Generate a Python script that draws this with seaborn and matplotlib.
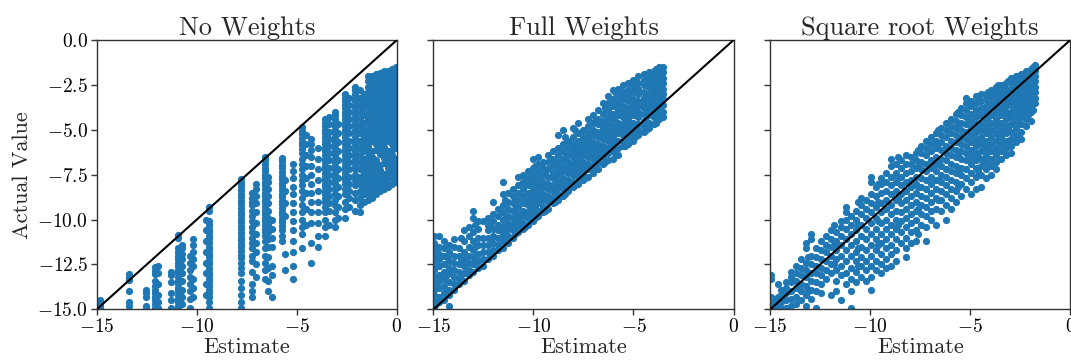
import matplotlib
matplotlib.use("Agg")
import matplotlib.pyplot as plt
import seaborn as sns
import pandas as pd

# ---------------- data ----------------
titles = ["No Weights", "Full Weights", "Square root Weights"]
x_label = "Estimate"
y_label = "Actual Value"
axis_lim = [-15, 0]
x_ticks = [-15, -10, -5, 0]
x_tick_labels = ["$-15$", "$-10$", "$-5$", "$0$"]
y_ticks = [0.0, -2.5, -5.0, -7.5, -10.0, -12.5, -15.0]
y_tick_labels = ["$0.0$", "$-2.5$", "$-5.0$", "$-7.5$", "$-10.0$", "$-12.5$", "$-15.0$"]

# Panel 1: No Weights (estimates fall on discrete columns)
nw_est = [-14.85, -13.4, -12.55, -12.1, -11.95, -11.3, -10.95, -10.75, -10.35, -10.2,
          -9.55, -9.4, -7.8, -7.25, -7.05, -6.6, -6.45, -6.25, -5.75, -5.6, -5.2,
          -4.75, -4.55, -4.3, -3.95, -3.6, -3.4, -3.1, -2.95, -2.6, -2.4, -2.1, -1.85,
          -1.65, -1.45, -1.25, -1.05, -0.85, -0.65, -0.45, -0.25, -0.05]
nw_act = [
    [-14.5, -14.65, -14.8, -14.95],
    [-13.05, -13.2, -13.35, -14.0, -14.6, -14.8],
    [-13.9, -14.1, -14.3, -14.8, -15.0],
    [-12.65, -12.85, -13.05, -13.4, -13.7, -13.9, -14.1, -14.3, -14.5, -14.7, -14.9],
    [-12.6, -12.95, -13.6, -14.2, -14.6, -14.95],
    [-12.9, -13.1, -13.5, -14.1, -14.5, -14.95],
    [-10.85, -11.05, -11.6, -11.8, -12.0, -12.2, -12.4, -12.6, -12.8, -13.0, -13.2, -13.4,
     -13.6, -13.8, -14.0, -14.2, -14.4, -14.6, -14.8, -15.0],
    [-11.4, -11.6, -11.9, -12.2, -12.6, -13.0, -13.4, -13.9, -14.3, -14.7],
    [-12.0, -12.4, -12.8, -13.2, -13.6, -14.0, -14.4, -14.9],
    [-11.1, -11.4, -11.8, -12.2, -12.6, -13.3, -13.8, -14.3],
    [-10.0, -10.6, -11.2, -11.8, -12.4, -13.0, -13.6, -14.2],
    [-9.3, -9.5, -10.1, -10.3, -10.5, -10.7, -10.9, -11.1, -11.3, -11.5, -11.7, -11.9,
     -12.1, -12.3, -12.5, -12.7, -12.9, -13.1, -13.3, -13.5, -13.7, -13.9, -14.1, -14.3,
     -14.6, -14.95],
    [-7.75, -7.95, -8.15, -8.35, -8.55, -8.75, -8.95, -9.15, -9.35, -9.55, -9.75, -9.95,
     -10.15, -10.35, -10.55, -10.75, -10.95, -11.15, -11.35, -11.55, -11.75, -11.95,
     -12.15, -12.4, -12.7, -13.0, -13.4, -13.8, -14.2, -14.6, -14.95],
    [-8.5, -8.8, -9.0, -9.2, -9.5, -9.8, -10.1, -10.4, -10.7, -11.0, -11.3, -11.6, -12.0,
     -12.3, -12.9, -13.6, -14.0, -14.3],
    [-8.0, -8.3, -8.7, -9.1, -9.6, -10.2, -10.8, -11.3, -11.8, -12.5, -13.2],
    [-6.5, -6.7, -6.9, -7.1, -7.3, -7.5, -7.7, -7.9, -8.1, -8.3, -8.5, -8.7, -8.9, -9.1,
     -9.3, -9.5, -9.7, -9.9, -10.1, -10.3, -10.5, -10.7, -10.9, -11.2, -11.6, -12.0,
     -12.4, -12.8, -13.3],
    [-7.6, -7.9, -8.3, -8.7, -9.1, -9.5, -9.9, -10.3, -10.7, -11.1, -11.5, -12.1, -12.7,
     -13.4, -14.0],
    [-10.0, -10.5, -11.0, -11.5, -12.6, -13.1, -14.3],
    [-6.55, -6.75, -6.95, -7.15, -7.35, -7.55, -7.75, -7.95, -8.15, -8.35, -8.55, -8.75,
     -8.95, -9.15, -9.35, -9.55, -9.75, -9.95, -10.15, -10.35, -10.6, -10.9, -11.2],
    [-7.8, -8.4, -9.1, -9.8, -11.9, -12.8],
    [-6.9, -7.3, -7.7, -8.2, -8.6, -9.1, -9.6, -10.1, -10.6, -11.2, -11.8, -12.6, -13.3],
    [-4.85, -5.05, -5.25, -5.45, -5.65, -5.85, -6.05, -6.3, -6.6, -6.9, -7.2, -7.5, -7.8,
     -8.1, -8.4, -8.8, -9.2, -9.6, -10.0, -10.4, -10.8, -11.6],
    [-5.3, -5.8, -6.4, -7.0, -7.7, -8.5, -9.4, -10.3],
    [-5.5, -5.8, -6.1, -6.5, -7.0, -7.5, -8.0, -8.5, -9.0, -9.6, -10.2, -11.3, -12.4],
    [-6.0, -6.6, -7.2, -7.8, -8.4, -9.0, -9.6, -10.2, -10.9, -11.5],
    [-4.4, -4.6, -4.8, -5.0, -5.2, -5.4, -5.6, -5.8, -6.0, -6.2, -6.4, -6.6, -6.8, -7.0,
     -7.2, -7.4, -7.6, -7.8, -8.0, -8.2, -8.4, -8.6, -8.8, -9.0, -9.3, -9.6, -10.0,
     -10.4, -10.9],
    [-4.3, -4.7, -5.1, -5.5, -5.9, -6.3, -6.7, -7.1, -7.5, -7.9, -8.3, -8.7, -9.1, -9.5,
     -10.3],
    [-4.0, -4.2, -4.4, -4.6, -4.8, -5.0, -5.2, -5.4, -5.6, -5.8, -6.0, -6.2, -6.4, -6.6,
     -6.8, -7.0, -7.2, -7.4, -7.6, -7.8, -8.0, -8.3, -8.6, -8.9, -9.2, -9.6, -10.0, -10.4],
    [-4.7, -5.2, -5.7, -6.2, -6.7, -7.2, -7.7, -8.2, -8.7, -9.3, -9.9],
    [-3.0, -3.2, -3.4, -3.6, -3.8, -4.0, -4.2, -4.4, -4.6, -4.8, -5.0, -5.2, -5.4, -5.6,
     -5.8, -6.0, -6.2, -6.4, -6.6, -6.8, -7.0, -7.2, -7.4, -7.6, -7.8, -8.0, -8.3, -8.6,
     -9.0, -9.4, -9.9],
    [-3.2, -3.6, -4.0, -4.4, -4.8, -5.2, -5.6, -6.0, -6.4, -6.8, -7.2, -7.6, -8.0, -8.4,
     -8.8, -9.3],
    [-2.6, -2.8, -3.0, -3.2, -3.4, -3.6, -3.8, -4.0, -4.2, -4.4, -4.6, -4.8, -5.0, -5.2,
     -5.4, -5.6, -5.8, -6.0, -6.2, -6.4, -6.6, -6.8, -7.0, -7.2, -7.5, -7.8, -8.1, -8.5,
     -8.9, -9.5],
    [-2.8, -3.2, -3.6, -4.0, -4.4, -4.8, -5.2, -5.6, -6.0, -6.4, -6.8, -7.2, -7.6, -8.0,
     -8.4, -8.8, -9.2, -9.6],
    [-3.0, -3.4, -3.8, -4.2, -4.6, -5.0, -5.4, -5.8, -6.2, -6.6, -7.0, -7.4, -7.8, -8.2,
     -8.6, -9.0],
    [-2.0, -2.3, -2.6, -2.9, -3.2, -3.5, -3.8, -4.1, -4.4, -4.7, -5.0, -5.3, -5.6, -5.9,
     -6.2, -6.5, -6.8, -7.1, -7.4, -7.7, -8.0, -8.3, -8.6, -8.9],
    [-2.0, -2.3, -2.6, -2.9, -3.2, -3.5, -3.8, -4.1, -4.4, -4.7, -5.0, -5.3, -5.6, -6.2,
     -6.5, -6.8, -7.1, -7.4, -7.7, -8.0, -8.4, -8.8],
    [-1.9, -2.2, -2.5, -2.8, -3.1, -3.4, -3.7, -4.0, -4.3, -4.6, -4.9, -5.2, -5.5, -5.8,
     -6.1, -6.7, -7.0, -7.3, -7.6, -7.9, -8.2, -8.6],
    [-1.85, -2.15, -2.45, -2.75, -3.05, -3.35, -3.65, -3.95, -4.25, -4.55, -4.85, -5.15,
     -5.45, -5.75, -6.05, -6.35, -6.95, -7.25, -7.55, -7.85, -8.15, -8.4],
    [-1.75, -2.05, -2.35, -2.65, -2.95, -3.25, -3.55, -3.85, -4.15, -4.45, -4.75, -5.05,
     -5.35, -5.65, -5.95, -6.25, -6.55, -6.85, -7.45, -7.75, -8.05, -8.3],
    [-1.7, -2.0, -2.3, -2.6, -2.9, -3.2, -3.5, -3.8, -4.1, -4.4, -4.7, -5.0, -5.3, -5.6,
     -6.2, -6.5, -6.8, -7.1, -7.4, -7.7, -8.0, -8.2],
    [-1.6, -1.9, -2.2, -2.5, -2.8, -3.1, -3.4, -3.7, -4.0, -4.3, -4.6, -4.9, -5.2, -5.5,
     -5.8, -6.1, -6.4, -6.7, -7.0, -7.3, -7.6, -8.0],
    [-1.5, -1.8, -2.1, -2.4, -2.7, -3.0, -3.3, -3.6, -3.9, -4.2, -4.5, -4.8, -5.1, -5.4,
     -5.7, -6.0, -6.6, -6.9, -7.2, -7.5, -7.9],
]

# Panel 2: Full Weights
fw_est = [-14.95, -14.7, -14.45, -14.2, -13.95, -13.7, -13.45, -13.2, -13.0, -12.75,
          -12.5, -12.25, -12.0, -11.75, -11.5, -11.25, -11.0, -10.75, -10.5, -10.25,
          -10.0, -9.75, -9.5, -9.25, -9.0, -8.75, -8.5, -8.25, -8.0, -7.75, -7.5, -7.25,
          -7.0, -6.75, -6.5, -6.25, -6.0, -5.75, -5.5, -5.25, -5.0, -4.75, -4.5, -4.25,
          -4.0, -3.75, -3.55,
          -14.85, -14.3, -13.6, -12.9, -12.1, -11.4, -10.9, -10.4, -9.9, -9.4, -8.9,
          -8.4, -7.9, -7.4, -6.9, -6.4, -5.9, -5.4, -4.9, -4.4, -3.9]
fw_act = [
    [-14.9, -14.5, -14.2, -13.9, -13.5, -13.2, -12.8, -12.4, -12.1, -11.7, -11.3, -10.9],
    [-14.6, -14.3, -13.8, -13.4, -13.1, -12.6, -12.2, -11.9, -11.5, -10.9],
    [-14.5, -14.1, -13.7, -13.3, -12.9, -12.5, -12.0, -11.6, -11.2],
    [-14.8, -14.2, -13.9, -13.5, -13.0, -12.7, -12.3, -11.8, -11.4],
    [-13.9, -13.6, -13.2, -12.8, -12.4, -12.0, -11.5, -11.1],
    [-13.6, -13.3, -12.9, -12.5, -12.0, -11.6],
    [-13.4, -13.0, -12.6, -12.2, -11.8, -11.2, -10.6],
    [-13.1, -12.8, -12.4, -12.0, -11.5, -10.9, -10.4],
    [-12.9, -12.5, -12.1, -11.7, -11.2, -10.7, -9.9, -9.5],
    [-12.7, -12.3, -11.9, -11.4, -11.0, -10.5, -10.1],
    [-12.6, -12.2, -11.8, -11.4, -11.0, -10.1],
    [-12.2, -11.8, -11.4, -11.0, -10.6, -10.3, -9.9],
    [-12.0, -11.7, -11.3, -10.9, -10.5, -10.1, -9.7, -9.0],
    [-11.7, -11.4, -11.0, -10.6, -10.3, -9.8, -9.4],
    [-11.6, -11.2, -10.8, -10.4, -10.0, -9.6, -9.2, -8.6, -7.9],
    [-11.3, -10.9, -10.5, -10.2, -9.8, -9.4, -9.0, -8.5],
    [-11.0, -10.6, -10.3, -9.9, -9.5, -9.1, -8.7, -8.3],
    [-10.7, -10.4, -10.0, -9.7, -9.3, -8.9, -8.5, -8.1, -7.6],
    [-10.5, -10.2, -9.8, -9.5, -9.1, -8.7, -8.3, -7.9, -7.5],
    [-10.3, -9.9, -9.6, -9.2, -8.9, -8.5, -8.1, -7.7, -7.3],
    [-10.1, -9.7, -9.4, -9.0, -8.7, -8.3, -7.9, -7.5, -7.1, -6.6],
    [-9.8, -9.5, -9.1, -8.8, -8.4, -8.1, -7.7, -7.3, -6.9, -6.5],
    [-9.6, -9.3, -8.9, -8.6, -8.2, -7.9, -7.5, -7.1, -6.8],
    [-9.4, -9.0, -8.7, -8.3, -8.0, -7.6, -7.2, -6.8, -6.4],
    [-9.1, -8.8, -8.4, -8.1, -7.7, -7.4, -7.0, -6.6, -6.2],
    [-8.9, -8.6, -8.2, -7.9, -7.5, -7.2, -6.8, -6.4, -6.0, -5.3],
    [-8.7, -8.3, -8.0, -7.7, -7.3, -7.0, -6.6, -6.2, -5.8, -5.0],
    [-8.4, -8.1, -7.8, -7.4, -7.1, -6.8, -6.4, -6.0, -5.6],
    [-8.2, -7.9, -7.5, -7.2, -6.9, -6.5, -6.2, -5.8, -5.4, -4.9],
    [-8.0, -7.6, -7.3, -7.0, -6.6, -6.3, -6.0, -5.6, -5.2, -4.6],
    [-7.8, -7.4, -7.1, -6.8, -6.4, -6.1, -5.8, -5.4, -5.0],
    [-7.6, -7.2, -6.9, -6.5, -6.2, -5.9, -5.5, -5.2, -4.8, -4.4],
    [-7.4, -7.0, -6.6, -6.3, -6.0, -5.7, -5.3, -5.0, -4.6, -4.2],
    [-7.2, -6.8, -6.4, -6.1, -5.8, -5.4, -5.1, -4.7, -4.4, -3.9],
    [-6.9, -6.5, -6.2, -5.9, -5.5, -5.2, -4.9, -4.5, -4.1, -3.5],
    [-6.7, -6.3, -6.0, -5.6, -5.3, -5.0, -4.6, -4.3, -3.9, -3.5, -3.1],
    [-6.6, -6.2, -5.8, -5.4, -5.1, -4.8, -4.4, -4.1, -3.7, -3.3, -2.8],
    [-6.4, -6.0, -5.6, -5.2, -4.9, -4.6, -4.2, -3.9, -3.5, -3.1, -2.7],
    [-5.9, -5.6, -5.3, -5.0, -4.7, -4.3, -4.0, -3.7, -3.3, -2.9, -2.5],
    [-5.8, -5.4, -5.1, -4.8, -4.4, -4.1, -3.8, -3.4, -3.1, -2.8, -2.4],
    [-5.6, -5.2, -4.9, -4.6, -4.2, -3.9, -3.6, -3.3, -2.9, -2.6, -2.2],
    [-5.3, -5.0, -4.7, -4.3, -4.0, -3.7, -3.4, -3.0, -2.7, -2.4, -2.0],
    [-5.1, -4.8, -4.5, -4.1, -3.8, -3.5, -3.2, -2.9, -2.5, -2.2, -1.9],
    [-4.9, -4.6, -4.2, -3.9, -3.6, -3.3, -3.0, -2.6, -2.3, -2.0, -1.8],
    [-4.7, -4.3, -4.0, -3.7, -3.4, -3.1, -2.8, -2.5, -2.2, -1.9, -1.7],
    [-4.4, -4.1, -3.8, -3.5, -3.2, -2.9, -2.6, -2.3, -2.0, -1.7, -1.5],
    [-4.3, -4.0, -3.6, -3.3, -3.0, -2.7, -2.4, -2.1, -1.8, -1.5],
    [-14.7, -13.7, -12.6, -11.5],
    [-14.0, -13.1, -12.1],
    [-13.1, -12.3, -11.0],
    [-12.3, -11.5, -10.3],
    [-11.9, -11.1, -10.4],
    [-11.1, -10.6, -9.9, -8.9],
    [-10.8, -10.1, -9.4, -8.9],
    [-10.4, -9.7, -9.0, -8.0],
    [-9.9, -9.3, -8.6, -7.8, -7.0],
    [-9.5, -8.8, -8.1, -7.4],
    [-9.0, -8.3, -7.6, -6.9],
    [-8.6, -7.9, -7.2, -6.5, -5.4],
    [-8.1, -7.4, -6.7, -6.0, -5.0],
    [-7.7, -7.0, -6.3, -5.6],
    [-7.2, -6.5, -5.9, -5.2, -4.5],
    [-6.8, -6.1, -5.4, -4.7, -3.8],
    [-6.3, -5.6, -5.0, -4.3, -3.5, -2.9],
    [-5.9, -5.2, -4.5, -3.8, -3.1],
    [-5.4, -4.7, -4.1, -3.5, -2.8, -2.3],
    [-5.0, -4.3, -3.7, -3.0, -2.4],
    [-4.6, -3.9, -3.3, -2.7, -2.0, -1.6],
]

# Panel 3: Square root Weights
sw_est = [-14.95, -14.7, -14.45, -14.2, -13.95, -13.7, -13.45, -13.2, -12.95, -12.7,
          -12.45, -12.2, -11.95, -11.7, -11.45, -11.2, -10.95, -10.7, -10.45, -10.2,
          -9.95, -9.7, -9.45, -9.2, -8.95, -8.7, -8.45, -8.2, -7.95, -7.7, -7.45, -7.2,
          -6.95, -6.7, -6.45, -6.2, -5.95, -5.7, -5.45, -5.2, -4.95, -4.7, -4.45, -4.2,
          -3.95, -3.7, -3.45, -3.2, -2.95, -2.7, -2.45, -2.2, -1.95, -1.75,
          -14.6, -13.1, -11.8, -10.6, -9.6, -8.6, -7.6, -6.6, -5.6, -4.6, -4.1, -3.6,
          -3.1, -2.6, -2.1, -1.85]
sw_act = [
    [-13.1, -13.3, -14.3, -14.6, -15.0],
    [-14.4, -14.8, -15.0],
    [-13.9, -14.2, -14.6, -14.9],
    [-13.5, -13.8, -14.1, -14.5, -14.9],
    [-12.9, -13.2, -13.5, -14.0, -14.4, -14.8],
    [-12.6, -13.0, -13.4, -13.8, -14.3, -14.7],
    [-12.2, -12.7, -13.1, -13.6, -14.0, -14.5],
    [-11.3, -11.6, -12.4, -12.8, -13.2, -13.7, -14.2, -14.8],
    [-10.8, -11.1, -12.0, -12.5, -13.0, -13.4, -13.9, -14.4],
    [-11.6, -12.1, -12.6, -13.0, -13.5, -14.0, -14.9],
    [-11.2, -11.7, -12.2, -12.7, -13.1, -13.6, -14.1],
    [-10.9, -11.4, -11.8, -12.3, -12.8, -13.3],
    [-10.6, -11.1, -11.5, -12.0, -12.5, -13.0, -14.2],
    [-10.7, -11.2, -11.7, -12.2, -12.8, -13.4, -14.0],
    [-10.1, -10.4, -10.9, -11.4, -12.0, -12.6, -13.1, -14.5],
    [-9.3, -9.6, -10.0, -10.5, -11.1, -11.7, -12.3, -13.0, -13.6],
    [-9.8, -10.3, -10.8, -11.4, -12.0, -12.7, -13.3, -14.0, -14.9],
    [-9.5, -10.0, -10.6, -11.2, -11.8, -12.3, -12.9, -13.5],
    [-8.8, -9.2, -9.7, -10.3, -10.9, -11.5, -12.1, -12.6, -13.2],
    [-8.9, -9.4, -9.9, -10.5, -11.1, -11.7, -12.3, -12.8, -13.4],
    [-7.6, -7.9, -8.6, -9.1, -9.6, -10.2, -10.8, -11.4, -12.0, -12.6, -13.2, -13.9],
    [-8.2, -8.7, -9.3, -9.9, -10.5, -11.1, -11.7, -12.3, -12.8],
    [-7.7, -8.0, -8.5, -9.1, -9.6, -10.2, -10.8, -11.3, -11.9, -12.5, -13.0],
    [-7.4, -7.9, -8.4, -8.9, -9.4, -10.0, -10.5, -11.1, -11.6, -12.2, -12.7],
    [-6.6, -7.0, -7.6, -8.1, -8.6, -9.2, -9.7, -10.3, -10.8, -11.4, -11.9, -12.6],
    [-6.9, -7.4, -7.9, -8.4, -8.9, -9.5, -10.0, -10.5, -11.1, -11.7, -12.3],
    [-6.7, -7.1, -7.6, -8.1, -8.6, -9.1, -9.6, -10.1, -10.7, -11.3],
    [-6.4, -6.9, -7.4, -7.9, -8.4, -8.9, -9.4, -9.9, -10.4, -11.0, -11.6, -12.1],
    [-6.5, -6.9, -7.3, -7.8, -8.2, -8.7, -9.2, -9.7, -10.2, -10.7, -11.3],
    [-6.3, -6.7, -7.1, -7.6, -8.0, -8.5, -9.0, -9.5, -10.0, -10.6, -11.2],
    [-5.9, -6.3, -6.8, -7.2, -7.7, -8.2, -8.7, -9.2, -9.7, -10.3],
    [-5.6, -6.0, -6.4, -6.9, -7.3, -7.8, -8.3, -8.8, -9.3, -9.8, -10.4, -11.2],
    [-5.4, -5.8, -6.2, -6.7, -7.1, -7.6, -8.0, -8.5, -9.0, -9.5, -10.0],
    [-5.2, -5.6, -6.0, -6.5, -6.9, -7.3, -7.8, -8.3, -8.8, -9.4, -10.3],
    [-4.9, -5.3, -5.7, -6.1, -6.6, -7.0, -7.5, -7.9, -8.4, -8.9, -9.5],
    [-4.6, -5.0, -5.4, -5.9, -6.3, -6.7, -7.2, -7.6, -8.1, -8.6, -9.2, -10.0],
    [-4.4, -4.8, -5.2, -5.6, -6.0, -6.4, -6.9, -7.3, -7.8, -8.3, -8.8, -9.4],
    [-4.1, -4.5, -4.9, -5.3, -5.7, -6.1, -6.5, -7.0, -7.4, -7.9, -8.4, -9.0],
    [-3.8, -4.2, -4.6, -5.0, -5.4, -5.8, -6.2, -6.6, -7.1, -7.5, -8.0, -8.7],
    [-3.2, -3.5, -3.9, -4.3, -4.7, -5.1, -5.5, -5.9, -6.3, -6.7, -7.2, -7.7, -8.3],
    [-3.4, -3.7, -4.1, -4.5, -4.9, -5.3, -5.7, -6.1, -6.5, -6.9, -7.4, -7.9, -8.6],
    [-3.1, -3.5, -3.9, -4.3, -4.7, -5.1, -5.5, -5.9, -6.3, -6.7, -7.1, -7.6, -8.3],
    [-3.0, -3.4, -3.8, -4.2, -4.6, -5.0, -5.4, -5.8, -6.2, -6.6, -7.0, -7.5, -8.2],
    [-3.0, -3.3, -3.7, -4.0, -4.4, -4.8, -5.2, -5.6, -6.0, -6.4, -6.8, -7.2, -7.7],
    [-2.8, -3.1, -3.5, -3.8, -4.2, -4.6, -5.0, -5.4, -5.8, -6.2, -6.6, -7.0, -7.5],
    [-2.6, -2.9, -3.3, -3.6, -4.0, -4.4, -4.8, -5.2, -5.6, -6.0, -6.4, -6.8, -7.2],
    [-2.5, -2.8, -3.1, -3.5, -3.8, -4.2, -4.6, -5.0, -5.4, -5.8, -6.2, -6.6],
    [-2.4, -2.7, -3.0, -3.3, -3.7, -4.0, -4.4, -4.8, -5.2, -5.6, -6.0, -6.4],
    [-2.1, -2.4, -2.7, -3.0, -3.3, -3.6, -4.0, -4.3, -4.7, -5.1, -5.5, -5.9, -6.3],
    [-2.0, -2.3, -2.6, -2.9, -3.2, -3.5, -3.8, -4.1, -4.5, -4.9, -5.3, -5.7],
    [-1.9, -2.2, -2.5, -2.8, -3.1, -3.4, -3.7, -4.0, -4.3, -4.7, -5.1, -5.5],
    [-1.7, -2.0, -2.3, -2.6, -2.9, -3.2, -3.5, -3.8, -4.1, -4.4, -4.8],
    [-1.6, -1.9, -2.2, -2.5, -2.8, -3.1, -3.4, -3.7, -4.0, -4.5],
    [-1.4, -1.7, -2.0, -2.3, -2.6, -2.9, -3.2, -3.5],
    [-13.6, -14.3],
    [-12.1, -13.0, -14.0],
    [-10.3, -11.4, -12.5],
    [-9.0, -10.3, -11.6, -12.6],
    [-8.0, -9.0, -10.1, -11.4],
    [-6.5, -7.7, -8.8, -10.3],
    [-6.1, -7.0, -8.2, -9.4, -10.8],
    [-5.0, -5.8, -6.8, -7.8, -8.9],
    [-4.0, -4.8, -5.6, -6.4, -7.3, -8.2],
    [-3.3, -4.1, -4.9, -5.7, -6.5, -7.3],
    [-2.9, -3.6, -4.3, -5.0, -5.8, -6.6],
    [-2.5, -3.2, -3.9, -4.6, -5.3, -6.1],
    [-2.3, -2.9, -3.5, -4.2, -4.9, -5.6],
    [-2.1, -2.6, -3.3, -3.9, -4.6, -5.4],
    [-1.8, -2.4, -3.0, -3.6, -4.2],
    [-1.5, -2.1, -2.7, -3.3, -3.9],
]


def to_frame(est_cols, act_cols):
    est, act = [], []
    for x, ys in zip(est_cols, act_cols):
        est.extend([x] * len(ys))
        act.extend(ys)
    return pd.DataFrame({"Estimate": est, "Actual": act})


panels = [to_frame(nw_est, nw_act), to_frame(fw_est, fw_act), to_frame(sw_est, sw_act)]

# ---------------- styling ----------------
sns.set_style("ticks")
plt.rcParams["font.family"] = ["cmr10", "DejaVu Serif"]
plt.rcParams["mathtext.fontset"] = "cm"
plt.rcParams["axes.unicode_minus"] = True
plt.rcParams["axes.edgecolor"] = "#333333"
plt.rcParams["xtick.color"] = "#333333"
plt.rcParams["ytick.color"] = "#333333"
plt.rcParams["xtick.labelcolor"] = "black"
plt.rcParams["ytick.labelcolor"] = "black"

fig, axes = plt.subplots(1, 3, figsize=(10.71, 3.61), dpi=100, sharey=True)
fig.subplots_adjust(left=0.0903, right=0.9993, bottom=0.143, top=0.889, wspace=0.122)

for i, (ax, df, title) in enumerate(zip(axes, panels, titles)):
    sns.scatterplot(data=df, x="Estimate", y="Actual", ax=ax, color="#1f77b4",
                    s=27, linewidth=0, alpha=1.0, zorder=2)
    ax.plot(axis_lim, axis_lim, color="black", linewidth=1.5, zorder=3)
    ax.set_xlim(axis_lim)
    ax.set_ylim(axis_lim)
    ax.set_xticks(x_ticks, x_tick_labels, fontsize=14)
    ax.set_yticks(y_ticks, y_tick_labels, fontsize=14)
    ax.set_title(title, fontsize=19, pad=4)
    ax.set_xlabel(x_label, fontsize=16, labelpad=1)
    if i == 0:
        ax.set_ylabel(y_label, fontsize=16, labelpad=4)
    else:
        ax.set_ylabel("")
        ax.tick_params(axis="y", labelleft=False)
    for sp in ax.spines.values():
        sp.set_visible(True)
        sp.set_linewidth(1.0)
    ax.tick_params(length=4, width=1.0, pad=2)

fig.savefig("out.png", dpi=100)
